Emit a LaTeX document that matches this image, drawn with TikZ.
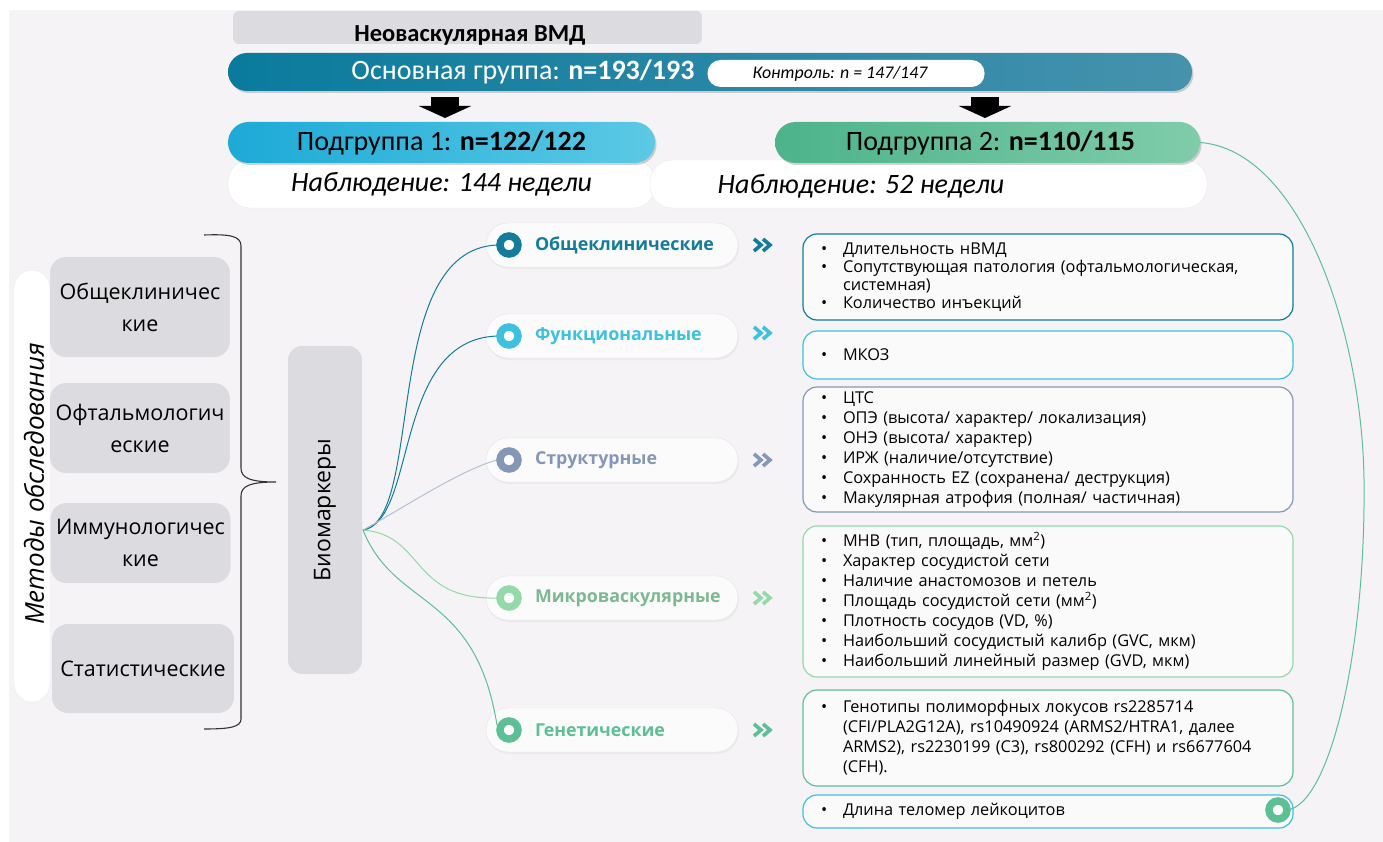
\documentclass[tikz,border=0pt]{standalone}
\usepackage{fontspec}
\setmainfont{Open Sans}
\newfontfamily\calib{Carlito}
\usetikzlibrary{positioning}
\usetikzlibrary{shadows}
\usetikzlibrary{arrows.meta}

\definecolor{bgcol}{HTML}{F5F3F5}
\definecolor{boxgray}{HTML}{DCDCE0}
\definecolor{cgen}{HTML}{137B9C}
\definecolor{cfun}{HTML}{3EC0DF}
\definecolor{cstr}{HTML}{8497B7}
\definecolor{cmic}{HTML}{93D9AA}
\definecolor{cgnt}{HTML}{5CBF96}
\definecolor{mainL}{HTML}{0A7B9D}
\definecolor{mainR}{HTML}{4692AD}
\definecolor{subaL}{HTML}{1CAAD6}
\definecolor{subaR}{HTML}{5CC9E5}
\definecolor{subbL}{HTML}{4CB38A}
\definecolor{subbR}{HTML}{80CCAA}

\newcommand{\fsz}[2]{\fontsize{#1}{#2}\selectfont}
\newcommand{\itm}[1]{\makebox[22pt][l]{\textbullet}#1}
\newcommand{\cnt}{\hspace*{22pt}}

\tikzset{
  graybox/.style={fill=boxgray, rounded corners=16pt, minimum width=180pt, align=center, font=\fsz{21.5}{32}},
  grouppill/.style={rounded corners=20.5pt, minimum width=427pt, minimum height=41pt,
    drop shadow={opacity=0.35, shadow xshift=1.5pt, shadow yshift=-2pt}, font=\calib\fsz{28}{30}},
  obspill/.style={fill=white, draw=black!8, rounded corners=22pt, minimum height=48pt},
  catbox/.style={fill=white!70!bgcol, draw=black!10, rounded corners=22pt, minimum width=252pt, minimum height=44pt,
    drop shadow={opacity=0.08, shadow xshift=1pt, shadow yshift=-2pt}},
  ring/.style={circle, draw=#1, line width=7.5pt, fill=white, minimum size=18pt},
  cattxt/.style={anchor=west, font=\bfseries\fsz{17.8}{20}},
  chevs/.pic={\draw[line width=3.6pt, line cap=butt, line join=miter] (-9,-6) -- (-2,0) -- (-9,6) (0,-6) -- (7,0) -- (0,6);},
  detbox/.style={draw=#1, line width=1.2pt, fill=white!60!bgcol, rounded corners=14pt,
    inner xsep=18pt, text width=454pt, align=left, font=\fsz{16.3}{20}},
  link/.style={line width=1pt}
}

\begin{document}
\begin{tikzpicture}[x=1pt,y=-1pt, every node/.style={inner sep=0pt, outer sep=0pt}]
\fill[white] (0,0) rectangle (1383,842);
\fill[bgcol] (9,10) rectangle (1383,842);
\useasboundingbox (0,0) rectangle (1383,842);

% head of the scheme
\node[fill=boxgray, rounded corners=6pt, minimum width=469pt, minimum height=33pt] (dis) at (467.5,27.5) {};
\node[font=\calib\bfseries\fsz{24.5}{26}] (distxt) at (470,35) {Неоваскулярная ВМД};

\node[rounded corners=19pt, minimum width=964pt, minimum height=38pt, left color=mainL, right color=mainR,
  drop shadow={opacity=0.35, shadow xshift=1.5pt, shadow yshift=-2pt}] (main) at (710,72) {};
\node[font=\calib\fsz{28}{30}, text=white] (maintxt) at (523,72) {Основная группа: \textbf{n=193/193}};
\node[fill=white, rounded corners=13pt, minimum width=277pt, minimum height=27pt] (ctrl) at (846,73.5) {};
\node[font=\calib\itshape\fsz{17.8}{18}] (ctrltxt) at (840,73.5) {Контроль: n = 147/147};

\coordinate (aatop) at (445,97); \coordinate (aabot) at (445,118);
\coordinate (abtop) at (985,97); \coordinate (abbot) at (985,118);
\draw[line width=28pt, -{Triangle[width=52pt,length=12pt]}] (aatop) -- (aabot);
\draw[line width=28pt, -{Triangle[width=52pt,length=12pt]}] (abtop) -- (abbot);

% subgroups
\node[obspill, minimum width=427pt, font=\calib\itshape\fsz{28}{30}] (obsa) at (441.5,184) {\raisebox{-3pt}{Наблюдение: 144 недели}};
\node[obspill, minimum width=557pt] (obsb) at (928.5,184) {};
\node[font=\calib\itshape\fsz{28}{30}] (obsbtxt) at (861,186) {Наблюдение: 52 недели};

\node[grouppill, left color=subaL, right color=subaR] (suba) at (441.5,142.5) {Подгруппа 1: \textbf{n=122/122}};
\node[grouppill, left color=subbL, right color=subbR, minimum width=425pt] (subb) at (987.5,142.5) {\hspace*{6pt}Подгруппа 2: \textbf{n=110/115}};

% methods
\node[fill=white, draw=black!8, rounded corners=18pt, minimum width=36pt, minimum height=432pt] (meth) at (32,486) {};
\node[rotate=90, font=\itshape\fsz{26}{28}] (methtxt) at (34,484) {Методы обследования};

\node[graybox, minimum height=100pt] (ga) at (140,307) {Общеклиничес\\кие};
\node[graybox, minimum height=90pt] (gb) at (140,428) {Офтальмологич\\еские};
\node[graybox, minimum height=80pt] (gc) at (140.5,543) {Иммунологичес\\кие};
\node[graybox, minimum height=89pt, minimum width=182pt] (gd) at (143,668.5) {Статистические};

\coordinate (btip) at (276,482);
\draw[line width=1.1pt, black!80] (204,235) .. controls (230,234) and (241,236) .. (241,246) -- (241,468)
  .. controls (241,478) and (250,482) .. (btip) .. controls (250,482) and (241,486) .. (241,496) -- (241,719)
  .. controls (241,727) and (230,729) .. (204,729);

\node[graybox, rotate=90, minimum width=328pt, minimum height=74pt, rounded corners=14pt, font=\fsz{23}{24}] (bio) at (325,510) {Биомаркеры};
\coordinate (biohub) at (363,530);

% biomarker groups
\node[catbox] (ka) at (612,245) {};
\node[catbox] (kb) at (612,336) {};
\node[catbox] (kc) at (612,460) {};
\node[catbox] (kd) at (612,598) {};
\node[catbox] (ke) at (612,730) {};

\draw[link, cgen] (biohub) .. controls (425,520) and (380,250) .. (497,245);
\draw[link, cgen] (biohub) .. controls (418,520) and (392,340) .. (497,336);
\draw[link, cstr!60] (biohub) .. controls (400,510) and (460,470) .. (497,460);
\draw[link, cmic] (biohub) .. controls (425,535) and (410,600) .. (497,598);
\draw[link, cgnt] (biohub) .. controls (395,610) and (475,590) .. (497,725);

\node[ring=cgen] (ra) at (509,245) {};
\node[ring=cfun] (rb) at (509,336) {};
\node[ring=cstr] (rc) at (509,460) {};
\node[ring=cmic] (rd) at (509,598) {};
\node[ring=cgnt] (re) at (509,730) {};

\node[cattxt, text=cgen] (ta) at (535,245) {Общеклинические};
\node[cattxt, text=cfun] (tb) at (535,336) {Функциональные};
\node[cattxt, text=cstr] (tc) at (535,460) {Структурные};
\node[cattxt, text=cmic!85!black] (td) at (535,598) {Микроваскулярные};
\node[cattxt, text=cgnt] (te) at (535,730) {Генетические};

\pic[cgen] at (763,245) {chevs};
\pic[cfun] at (763,333) {chevs};
\pic[cstr] at (763,460) {chevs};
\pic[cmic] at (763,598) {chevs};
\pic[cgnt] at (763,730) {chevs};

% details
\node[detbox=cgen, minimum height=86pt, font=\fsz{16.3}{18}] (da) at (1048,277) {\itm{Длительность нВМД}\\
  \itm{Сопутствующая патология (офтальмологическая,}\\ \cnt системная)\\ \itm{Количество инъекций}};
\node[detbox=cfun, minimum height=48pt] (db) at (1048,355) {\itm{МКОЗ}};
\node[detbox=cstr, minimum height=125pt] (dc) at (1048,449.5) {\itm{ЦТС}\\ \itm{ОПЭ (высота/ характер/ локализация)}\\
  \itm{ОНЭ (высота/ характер)}\\ \itm{ИРЖ (наличие/отсутствие)}\\ \itm{Сохранность EZ (сохранена/ деструкция)}\\
  \itm{Макулярная атрофия (полная/ частичная)}};
\node[detbox=cmic, minimum height=151pt] (dd) at (1048,601.5) {\itm{МНВ (тип, площадь, мм\textsuperscript{2})}\\
  \itm{Характер сосудистой сети}\\ \itm{Наличие анастомозов и петель}\\ \itm{Площадь сосудистой сети (мм\textsuperscript{2})}\\
  \itm{Плотность сосудов (VD, \%)}\\ \itm{Наибольший сосудистый калибр (GVC, мкм)}\\ \itm{Наибольший линейный размер (GVD, мкм)}};
\node[detbox=cgnt, minimum height=96pt] (de) at (1048,738) {\itm{Генотипы полиморфных локусов rs2285714}\\
  \cnt (CFI/PLA2G12A), rs10490924 (ARMS2/HTRA1, далее\\ \cnt ARMS2), rs2230199 (C3), rs800292 (CFH) и rs6677604\\ \cnt (CFH).};
\node[detbox=cfun, minimum height=33pt] (df) at (1048,811.5) {\itm{Длина теломер лейкоцитов}};

\node[ring=cgnt] (rf) at (1278,810) {};
\draw[link, cgnt] (subb.east) .. controls (1300,150) and (1362,330) .. (1364,480) .. controls (1366,650) and (1330,805) .. (rf.east);
\end{tikzpicture}
\end{document}
